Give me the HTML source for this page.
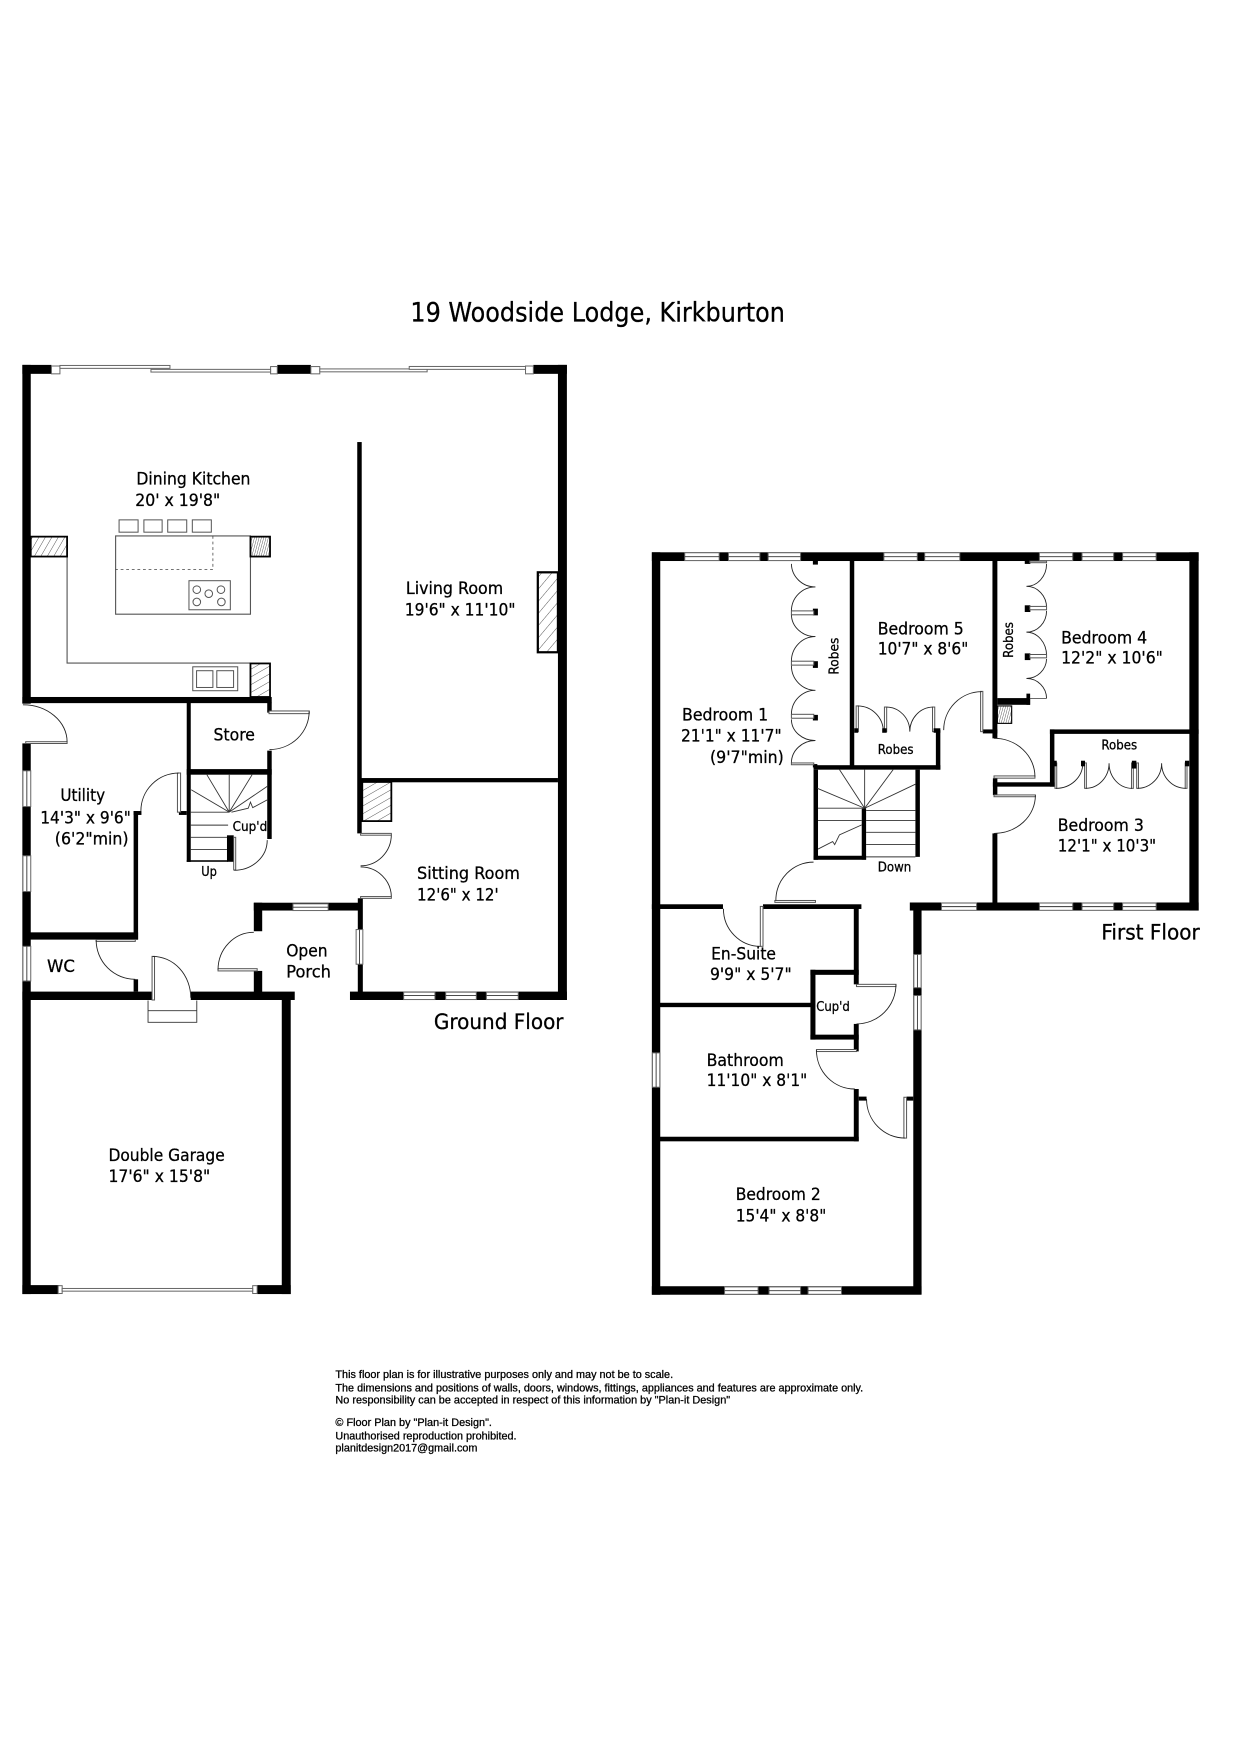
<!DOCTYPE html>
<html>
<head>
<meta charset="utf-8">
<title>19 Woodside Lodge, Kirkburton</title>
<style>
html,body{margin:0;padding:0;background:#fff}
svg{display:block}
text{font-family:"DejaVu Sans","Liberation Sans",sans-serif;fill:#000;font-size:15px;stroke:#000;stroke-width:.25px}
.s{font-size:11.5px}
.f{font-family:"Liberation Sans",Arial,sans-serif;font-size:9.6px;stroke:#000;stroke-width:.25px}
.a{fill:none;stroke:#222;stroke-width:.8}
.g{fill:none;stroke:#555;stroke-width:1.2}
.t{fill:none;stroke:#333;stroke-width:.8}
.w{fill:#fff;stroke:#666;stroke-width:.9}
.l{fill:#fff;stroke:#555;stroke-width:.9}
.h{stroke:#000;stroke-width:1.6}
</style>
</head>
<body>
<svg xmlns="http://www.w3.org/2000/svg" width="1240" height="1754" viewBox="0 0 1109 1568">
<defs>
<pattern id="h1" width="6" height="6" patternUnits="userSpaceOnUse" patternTransform="rotate(-30)"><line x1="0" y1="0" x2="6" y2="0" stroke="#444" stroke-width=".8"/></pattern>
<pattern id="h2" width="5" height="5" patternUnits="userSpaceOnUse" patternTransform="rotate(30)"><line x1="0" y1="0" x2="0" y2="5" stroke="#444" stroke-width=".8"/></pattern>
<pattern id="h3" width="2" height="2" patternUnits="userSpaceOnUse" patternTransform="rotate(15)"><line x1="0" y1="0" x2="0" y2="2" stroke="#333" stroke-width=".7"/></pattern>
<pattern id="h4" width="7" height="7" patternUnits="userSpaceOnUse" patternTransform="rotate(40)"><line x1="0" y1="0" x2="0" y2="7" stroke="#444" stroke-width=".8"/></pattern>
</defs>
<rect width="1109" height="1568" fill="#fff"/>

<text x="367" y="287" font-size="24" style="font-size:23.5px" textLength="335" lengthAdjust="spacingAndGlyphs">19 Woodside Lodge, Kirkburton</text>

<!-- GROUND FLOOR WALLS -->
<g fill="#000">
<rect x="20" y="326" width="26" height="8"/>
<rect x="248" y="326" width="30" height="8"/>
<rect x="477" y="326" width="30" height="8"/>
<rect x="20" y="326" width="7.5" height="303"/>
<rect x="499" y="326" width="8" height="568"/>
<rect x="20" y="623" width="223" height="5.5"/>
<rect x="20" y="664.5" width="7.5" height="492.5"/>
<rect x="319.5" y="395" width="4" height="350"/>
<rect x="323" y="695.5" width="176" height="3.8"/>
<rect x="320" y="803" width="4.5" height="91"/>
<rect x="313" y="886.5" width="194" height="7.5"/>
<rect x="227" y="807" width="97" height="7"/>
<rect x="227" y="807" width="7.5" height="25.5"/>
<rect x="227" y="868" width="7.5" height="26"/>
<rect x="167" y="628" width="3.6" height="142.5"/>
<rect x="167" y="687.5" width="76" height="5"/>
<rect x="239" y="628" width="4" height="9"/>
<rect x="239" y="671" width="4" height="79"/>
<rect x="119.5" y="725" width="4" height="115"/>
<rect x="119.5" y="725" width="7" height="3.5"/>
<rect x="160" y="725" width="7" height="3.5"/>
<rect x="27" y="833.5" width="96.5" height="6.5"/>
<rect x="119.5" y="875.5" width="4" height="11"/>
<rect x="20" y="886.5" width="116.5" height="7.5"/>
<rect x="170.6" y="886.5" width="93" height="7.5"/>
<rect x="252" y="894" width="8" height="263"/>
<rect x="20" y="1149" width="33" height="8"/>
<rect x="230" y="1149" width="30" height="8"/>
<rect x="203" y="746.7" width="6" height="23.7"/>
<rect x="167" y="769" width="37" height="1.4"/>
</g>

<!-- ground windows -->
<g>
<rect class="w" x="46" y="327" width="7.6" height="7"/>
<rect class="w" x="242" y="327.5" width="6" height="6.5"/>
<rect class="w" x="278" y="327.5" width="8" height="6.5"/>
<rect class="w" x="470" y="327" width="7" height="7"/>
<rect class="w" x="53.6" y="326.5" width="98.4" height="2.6"/>
<rect class="w" x="135" y="330" width="107" height="2.4"/>
<rect class="w" x="286" y="329.6" width="96" height="2.6"/>
<rect class="w" x="366" y="327.4" width="104" height="2.6"/>
<rect class="w" x="52" y="1149.5" width="3.6" height="7"/>
<rect class="w" x="226" y="1149.5" width="4" height="7"/>
<rect class="w" x="55.6" y="1152" width="170.4" height="2.4"/>
<g class="w">
<rect x="20.5" y="689" width="7" height="32"/><rect x="20.5" y="765" width="7" height="32"/><rect x="20.5" y="846" width="7" height="31"/>
<rect x="318.5" y="831" width="6" height="31"/>
<rect x="262" y="808" width="31.5" height="6"/>
<rect x="361" y="887" width="28" height="6.6"/><rect x="398.6" y="887" width="27.4" height="6.6"/><rect x="435" y="887" width="28.5" height="6.6"/>
</g>
<path class="t" d="M24 689V721M24 765V797M24 846V877M321.5 831V862M262 811H293.5M361 890H389M398.6 890H426M435 890H463.5"/>
</g>

<!-- kitchen -->
<g>
<path class="g" d="M60 497.4V592.7H224M103.4 479H224V549H103.4Z" style="stroke-width:1"/>
<path d="M190.4 479V509H103.4" fill="none" stroke="#444" stroke-width=".7" stroke-dasharray="2.5 2.5"/>
<g class="g" style="stroke-width:.9">
<rect x="106.5" y="464.6" width="17" height="11"/><rect x="128.7" y="464.6" width="16.3" height="11"/><rect x="150" y="464.6" width="17" height="11"/><rect x="172" y="464.6" width="17" height="11"/>
<rect x="169" y="519" width="37" height="26"/>
<rect x="172.4" y="596" width="40.2" height="21.4"/><rect x="175.8" y="599.5" width="14.6" height="15"/><rect x="193.9" y="599.5" width="15" height="15"/>
<circle cx="176" cy="527" r="3.4"/><circle cx="197.6" cy="527" r="3.4"/><circle cx="186.7" cy="530.6" r="3.4"/><circle cx="176" cy="538" r="3.4"/><circle cx="198" cy="538" r="3.4"/>
</g>
<rect x="27.5" y="479.6" width="32.5" height="17.8" fill="url(#h2)" class="h"/>
<rect x="224" y="479.6" width="17.5" height="17.8" fill="url(#h3)" class="h"/>
<rect x="224" y="593" width="17.5" height="30" fill="url(#h1)" class="h"/>
<rect x="324" y="699" width="26" height="35" fill="url(#h1)" class="h"/>
<rect x="481" y="511.5" width="18" height="71.5" fill="url(#h4)" stroke="#000" stroke-width="2"/>
</g>

<!-- ground doors -->
<g>
<rect class="l" x="240.6" y="635.5" width="36" height="2.4"/>
<path class="a" d="M276.5 636A35.5 34 0 0 1 241 670"/>
<rect class="l" x="23" y="663" width="37" height="1.6"/>
<path class="a" d="M60 663A39.5 33 0 0 0 20.5 630"/>
<rect class="l" x="158.7" y="691" width="2.8" height="35"/>
<path class="a" d="M160 691A34 34 0 0 0 126 725"/>
<rect class="l" x="86" y="840" width="35" height="1.6"/>
<path class="a" d="M86 840.5A35 35 0 0 0 121 875.5"/>
<rect class="l" x="136" y="855" width="2.2" height="39"/>
<path class="a" d="M136.5 855A34 37 0 0 1 170.6 892"/>
<path class="t" d="M132.4 894.5V914H176V894.5M132.4 903.6H176"/>
<rect class="l" x="195" y="866" width="35" height="2"/>
<path class="a" d="M195 867A32 33.5 0 0 1 227 833.5"/>
<path class="a" d="M350 746A27.5 28 0 0 1 322.5 774M322.5 775A27.5 27 0 0 1 350 802"/>
<rect class="l" x="322.5" y="745" width="27.5" height="1.6"/>
<rect class="l" x="322.5" y="801.5" width="27.5" height="1.6"/>
<rect class="l" x="209" y="748.5" width="1.8" height="29.2"/>
<path class="a" d="M209.5 778A29.5 27 0 0 0 239 751"/>
</g>

<!-- ground stairs -->
<path class="t" d="M205 726V692.5M205 726L185 692.5M205 726L225.5 692.5M205 726L171 706M205 726L239 703M170.6 726H205M170.6 737.6H204M170.6 748.5H203M170.6 759.5H203M207 726L222 722.5L224 717L226 722L239 715"/>

<!-- ground labels -->
<text x="122" y="433" textLength="102" lengthAdjust="spacingAndGlyphs">Dining Kitchen</text>
<text x="121" y="452" textLength="76" lengthAdjust="spacingAndGlyphs">20' x 19'8"</text>
<text x="363" y="531" textLength="87" lengthAdjust="spacingAndGlyphs">Living Room</text>
<text x="362" y="550" textLength="99" lengthAdjust="spacingAndGlyphs">19'6" x 11'10"</text>
<text x="191" y="662" textLength="37" lengthAdjust="spacingAndGlyphs">Store</text>
<text x="54" y="716" textLength="40" lengthAdjust="spacingAndGlyphs">Utility</text>
<text x="36" y="736" textLength="81" lengthAdjust="spacingAndGlyphs">14'3" x 9'6"</text>
<text x="49" y="755" textLength="66" lengthAdjust="spacingAndGlyphs">(6'2"min)</text>
<text class="s" x="208" y="743" textLength="31" lengthAdjust="spacingAndGlyphs">Cup'd</text>
<text class="s" x="180" y="783" textLength="14" lengthAdjust="spacingAndGlyphs">Up</text>
<text x="373" y="786" textLength="92" lengthAdjust="spacingAndGlyphs">Sitting Room</text>
<text x="373" y="805" textLength="73" lengthAdjust="spacingAndGlyphs">12'6" x 12'</text>
<text x="256" y="855" textLength="37" lengthAdjust="spacingAndGlyphs">Open</text>
<text x="256" y="874" textLength="40" lengthAdjust="spacingAndGlyphs">Porch</text>
<text x="42" y="869" textLength="25" lengthAdjust="spacingAndGlyphs">WC</text>
<text x="388" y="920" style="font-size:19px" textLength="116" lengthAdjust="spacingAndGlyphs">Ground Floor</text>
<text x="97" y="1038" textLength="104" lengthAdjust="spacingAndGlyphs">Double Garage</text>
<text x="97" y="1057" textLength="91" lengthAdjust="spacingAndGlyphs">17'6" x 15'8"</text>

<!-- FIRST FLOOR WALLS -->
<g fill="#000">
<rect x="583" y="493.6" width="489" height="7.8"/>
<rect x="583" y="493.6" width="7.5" height="664"/>
<rect x="1063.7" y="493.6" width="8.3" height="320.4"/>
<rect x="760" y="501" width="4" height="184"/>
<rect x="887.6" y="501" width="4.4" height="159"/>
<rect x="887.6" y="745" width="4.4" height="62"/>
<rect x="727.6" y="684" width="113.4" height="4"/>
<rect x="837" y="652.6" width="4" height="35.4"/>
<rect x="879" y="652" width="13" height="3.6"/>
<rect x="892" y="624" width="29.3" height="6"/>
<rect x="918" y="620" width="3.3" height="10"/>
<rect x="727.6" y="688" width="4" height="80.6"/>
<rect x="727.6" y="765" width="47" height="3.6"/>
<rect x="770.7" y="722.5" width="3.9" height="46"/>
<rect x="818.7" y="688" width="4" height="78"/>
<rect x="583" y="808.4" width="63.6" height="4.2"/>
<rect x="682.4" y="808.4" width="88" height="4.2"/>
<rect x="763.6" y="812" width="4.4" height="68"/>
<rect x="724.8" y="867" width="43.2" height="4.5"/>
<rect x="724.8" y="867" width="4.5" height="62.4"/>
<rect x="724.8" y="925" width="43.2" height="4.4"/>
<rect x="763.6" y="915.4" width="4.4" height="24.6"/>
<rect x="590" y="896.5" width="135" height="3.9"/>
<rect x="763.6" y="973.6" width="4.4" height="46.8"/>
<rect x="768" y="980.4" width="7" height="3.6"/>
<rect x="590" y="1016.3" width="178" height="4.1"/>
<rect x="810.8" y="980.4" width="6" height="3.6"/>
<rect x="816.8" y="807" width="7.4" height="350"/>
<rect x="813.7" y="806.8" width="258.3" height="7.2"/>
<rect x="583" y="1150" width="241.2" height="7.6"/>
<rect x="939" y="652" width="133" height="4"/>
<rect x="939" y="652" width="4" height="51.2"/>
<rect x="888" y="699.3" width="55" height="3.9"/>
<rect x="888" y="695.7" width="4" height="15"/>
</g>
<!-- first windows -->
<g class="w">
<rect x="612.4" y="494" width="30.8" height="7"/><rect x="651.5" y="494" width="28.1" height="7"/><rect x="687" y="494" width="29" height="7"/>
<rect x="790.5" y="494" width="29.9" height="7"/><rect x="827" y="494" width="31.4" height="7"/>
<rect x="929.6" y="494" width="29.8" height="7"/><rect x="967.7" y="494" width="28.3" height="7"/><rect x="1004" y="494" width="30" height="7"/>
<rect x="842" y="807.3" width="31.4" height="6.5"/>
<rect x="929.6" y="807.3" width="29.8" height="6.5"/><rect x="967.7" y="807.3" width="28.3" height="6.5"/><rect x="1004" y="807.3" width="30" height="6.5"/>
<rect x="817.3" y="853.3" width="6.5" height="29.7"/><rect x="817.3" y="890" width="6.5" height="30.7"/>
<rect x="583.5" y="941.3" width="6.6" height="30.7"/>
<rect x="648" y="1150.6" width="30" height="6.6"/><rect x="687.8" y="1150.6" width="28.2" height="6.6"/><rect x="722.7" y="1150.6" width="29.9" height="6.6"/>
</g>
<path class="t" d="M612.4 497.5H643.2M651.5 497.5H679.6M687 497.5H716M790.5 497.5H820.4M827 497.5H858.4M929.6 497.5H959.4M967.7 497.5H996M1004 497.5H1034M842 810.5H873.4M929.6 810.5H959.4M967.7 810.5H996M1004 810.5H1034M820.5 853.3V883M820.5 890V920.7M586.8 941.3V972M648 1154H678M687.8 1154H716M722.7 1154H752.6"/>
<rect x="892" y="631" width="12.8" height="15.6" fill="url(#h3)" stroke="#000" stroke-width="1"/>

<!-- first stairs -->
<path class="t" d="M773.3 722.5L750.8 688M773.3 722.5V688M773.3 722.5L798.8 688M773.3 722.5L731 704.7M773.3 722.5L818.7 701M731.6 722.5H770.7M731.6 733.5H770.7M774.6 724.6H818.7M774.6 733.5H818.7M774.6 744H818.7M774.6 755H818.7M774.6 766H818.7M731.6 759L744.7 752.3L746.5 755L750.8 746.3L770.7 737.4"/>

<!-- Bedroom 1 robes -->
<path class="a" d="M707.8 504A21.5 21 0 0 0 729.3 524.6M729.3 524.6A21.5 21.5 0 0 0 707.8 546M707.8 549A21.5 20 0 0 0 729.3 569M729.3 569A21.5 22 0 0 0 707.8 591M707.8 595A21.5 22 0 0 0 729.3 617M729.3 617A21.5 21.5 0 0 0 707.8 638.5M707.8 643A21.5 19 0 0 0 729.3 662M729.3 662A21.5 20 0 0 0 707.8 682"/>
<g fill="#000"><rect x="727" y="501" width="4.5" height="3.6"/><rect x="727" y="544" width="4.5" height="6"/><rect x="727" y="591" width="4.5" height="6"/><rect x="727" y="639" width="4.5" height="5"/><rect x="727" y="683" width="4" height="3"/></g>
<g class="l"><rect x="707.8" y="546" width="20" height="3.5"/><rect x="707.8" y="591" width="20" height="3.5"/><rect x="707.8" y="638.5" width="20" height="3.5"/><rect x="707.8" y="682" width="20" height="1.6"/></g>
<text class="s" transform="translate(750,603) rotate(-90)" textLength="33" lengthAdjust="spacingAndGlyphs">Robes</text>

<!-- Bedroom 5 robes + door -->
<g class="l"><rect x="765.7" y="631" width="2" height="23"/><rect x="791" y="632" width="2" height="22"/><rect x="834" y="632" width="2" height="22"/><rect x="877" y="618" width="2" height="36"/></g>
<path class="a" d="M767 631A23 23 0 0 1 790 654M793 632A21 22 0 0 1 813.7 654M834 632A21 22 0 0 0 813.7 654M878 618.3A34 34.3 0 0 0 844 652.6"/>
<g fill="#000"><rect x="764" y="651" width="3.5" height="4"/><rect x="789" y="651" width="4" height="4"/><rect x="835" y="651" width="6" height="4"/></g>
<text class="s" x="785" y="674" textLength="32" lengthAdjust="spacingAndGlyphs">Robes</text>

<!-- Bedroom 4 robes -->
<path class="a" d="M936 504A18 20 0 0 1 918 524M918 524A18 19 0 0 1 936 543M936 546A18 19 0 0 1 918 565M918 565A18 21 0 0 1 936 586M936 589A18 18 0 0 1 918 606.4M918 606.4A18 18 0 0 1 936 624.3"/>
<path class="g" d="M921 624.3H936" style="stroke-width:.8"/>
<g fill="#000"><rect x="916.5" y="501" width="5" height="3"/><rect x="916.5" y="541" width="5" height="6"/><rect x="916.5" y="584" width="5" height="6"/></g>
<g class="l"><rect x="921" y="501.5" width="15" height="1.4"/><rect x="921" y="542" width="15" height="3"/><rect x="921" y="585" width="15" height="3"/></g>
<text class="s" transform="translate(906,588) rotate(-90)" textLength="32" lengthAdjust="spacingAndGlyphs">Robes</text>

<!-- Bedroom 3 doors + robes -->
<g class="l"><rect x="889" y="693.6" width="36.6" height="2"/><rect x="889" y="710.6" width="37" height="1.6"/></g>
<path class="a" d="M925.6 694.2A36.6 34.2 0 0 0 889 660M926 711A37 34 0 0 1 889 745"/>
<g class="l"><rect x="943.5" y="682" width="1.6" height="22.7"/><rect x="970" y="682" width="1.6" height="22.7"/><rect x="1012" y="682" width="1.6" height="22.7"/><rect x="1016.6" y="682" width="1.6" height="22.7"/><rect x="1060" y="682" width="1.6" height="22.7"/></g>
<path class="a" d="M944.5 704.7A23.9 22.4 0 0 0 968.4 682.3M971 704.7A21 22.4 0 0 0 991.9 682.3M1012.4 704.7A20.5 22.4 0 0 1 991.9 682.3M1017.4 704.7A21.5 22.4 0 0 0 1038.9 682.3M1060.4 704.7A21.5 22.4 0 0 1 1038.9 682.3"/>
<g fill="#000"><rect x="941.5" y="680" width="3.6" height="5"/><rect x="966.8" y="680" width="3.6" height="5"/><rect x="1012.3" y="680" width="4" height="7"/><rect x="1059.8" y="680" width="3.8" height="5"/></g>
<text class="s" x="985" y="670" textLength="32" lengthAdjust="spacingAndGlyphs">Robes</text>

<!-- first floor doors -->
<g class="l"><rect x="693" y="805" width="36.3" height="1.7"/><rect x="680" y="810.3" width="2.4" height="35.7"/><rect x="766" y="880" width="35.3" height="2"/><rect x="730.2" y="938.3" width="35.8" height="1.8"/><rect x="808.4" y="981" width="2.4" height="36.5"/></g>
<path class="a" d="M693.9 805A33.7 34.3 0 0 1 727.6 770.7M647 812.4A33 33.6 0 0 0 680 846M801.3 880A35.3 35.4 0 0 1 766 915.4M730.2 939A34.3 34.6 0 0 0 764.5 973.6M775 982.5A34.3 35 0 0 0 809.3 1017.5"/>

<!-- first labels -->
<text x="610" y="644" textLength="77" lengthAdjust="spacingAndGlyphs">Bedroom 1</text>
<text x="609" y="663" textLength="90" lengthAdjust="spacingAndGlyphs">21'1" x 11'7"</text>
<text x="635" y="682" textLength="66" lengthAdjust="spacingAndGlyphs">(9'7"min)</text>
<text x="785" y="567" textLength="77" lengthAdjust="spacingAndGlyphs">Bedroom 5</text>
<text x="785" y="585" textLength="81" lengthAdjust="spacingAndGlyphs">10'7" x 8'6"</text>
<text x="949" y="575" textLength="77" lengthAdjust="spacingAndGlyphs">Bedroom 4</text>
<text x="949" y="593" textLength="91" lengthAdjust="spacingAndGlyphs">12'2" x 10'6"</text>
<text x="946" y="743" textLength="77" lengthAdjust="spacingAndGlyphs">Bedroom 3</text>
<text x="946" y="761" textLength="88" lengthAdjust="spacingAndGlyphs">12'1" x 10'3"</text>
<text class="s" x="785" y="779" textLength="30" lengthAdjust="spacingAndGlyphs">Down</text>
<text x="636" y="858" textLength="58" lengthAdjust="spacingAndGlyphs">En-Suite</text>
<text x="635" y="876" textLength="73" lengthAdjust="spacingAndGlyphs">9'9" x 5'7"</text>
<text class="s" x="730" y="904" textLength="30" lengthAdjust="spacingAndGlyphs">Cup'd</text>
<text x="632" y="953" textLength="69" lengthAdjust="spacingAndGlyphs">Bathroom</text>
<text x="632" y="971" textLength="90" lengthAdjust="spacingAndGlyphs">11'10" x 8'1"</text>
<text x="658" y="1073" textLength="76" lengthAdjust="spacingAndGlyphs">Bedroom 2</text>
<text x="658" y="1092" textLength="81" lengthAdjust="spacingAndGlyphs">15'4" x 8'8"</text>
<text x="985" y="840" style="font-size:19px" textLength="88" lengthAdjust="spacingAndGlyphs">First Floor</text>

<!-- footer -->
<text class="f" x="300" y="1232" textLength="302" lengthAdjust="spacingAndGlyphs">This floor plan is for illustrative purposes only and may not be to scale.</text>
<text class="f" x="300" y="1244" textLength="472" lengthAdjust="spacingAndGlyphs">The dimensions and positions of walls, doors, windows, fittings, appliances and features are approximate only.</text>
<text class="f" x="300" y="1255" textLength="353" lengthAdjust="spacingAndGlyphs">No responsibility can be accepted in respect of this information by "Plan-it Design"</text>
<text class="f" x="300" y="1275" textLength="140" lengthAdjust="spacingAndGlyphs">© Floor Plan by "Plan-it Design".</text>
<text class="f" x="300" y="1287" textLength="162" lengthAdjust="spacingAndGlyphs">Unauthorised reproduction prohibited.</text>
<text class="f" x="300" y="1298" textLength="127" lengthAdjust="spacingAndGlyphs">planitdesign2017@gmail.com</text>
</svg>
</body>
</html>
